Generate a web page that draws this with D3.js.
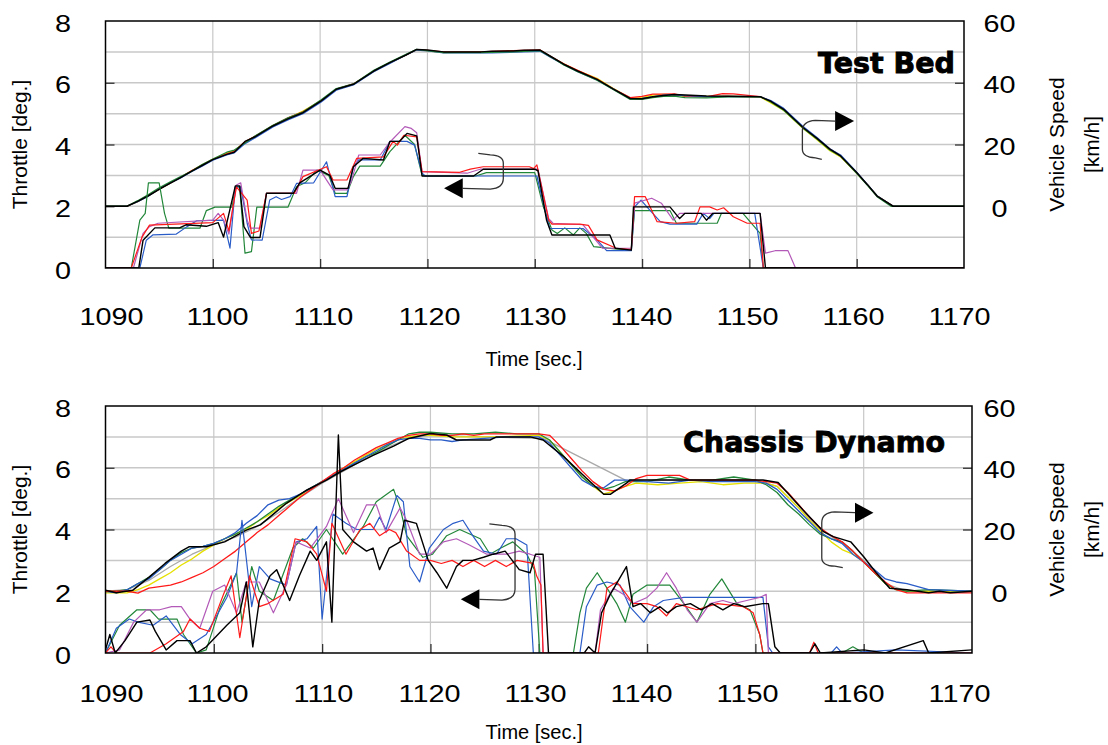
<!DOCTYPE html>
<html><head><meta charset="utf-8">
<script src="https://cdnjs.cloudflare.com/ajax/libs/d3/7.8.5/d3.min.js"></script>
<style>body{margin:0;background:#fff;} svg{display:block}</style>
</head><body>
<script>
// ---------- axis ticks ----------
const timeTicks = [1090,1100,1110,1120,1130,1140,1150,1160,1170];
const throttleTicks = [0,2,4,6,8];
const speedTicks = [0,20,40,60];
const panelTitles = ["Test Bed","Chassis Dynamo"];

// ---------- TOP (Test Bed) : vehicle speed [t, km/h] ----------
const topSpdBlack = [[1090,0],[1092,0],[1093,1.6],[1094,3.4],[1095,5.5],[1096,7.4],[1097,9.3],[1098,11.3],[1099,13.2],[1100,15.1],[1101.3,16.8],[1102,17.5],[1103,21],[1104,22.6],[1105.6,26],[1107,28.3],[1108.4,30.3],[1110.1,34.1],[1111.5,37.9],[1113.1,39.5],[1115,43.8],[1116.5,46.5],[1118,49],[1119,50.8],[1120,50.6],[1121.5,50],[1125,50],[1126,50.2],[1128,50.3],[1129,50.5],[1130.5,50.6],[1131.5,48.5],[1132.7,46],[1134,43.8],[1135.8,41.1],[1137.3,38],[1138.9,34.9],[1140,34.8],[1141,35.5],[1142,35.9],[1143,36.2],[1144,36],[1146,35.7],[1148,35.6],[1151,35.5],[1152,34],[1153.2,31.4],[1155,25.5],[1156.3,22],[1157.5,18.5],[1158.5,16.3],[1160,10.9],[1161,7],[1161.9,3.3],[1163.4,0],[1170,0]];
const topSpdGreen = [[1090,0],[1092,0],[1093,1.8],[1094,3.8],[1095,6],[1096,7.8],[1097,9.6],[1098,11.3],[1099,13.5],[1100,15.3],[1101.3,17.5],[1102,18.2],[1103,20.5],[1104,22.9],[1105.6,26.2],[1107,28.6],[1108.4,30.5],[1110.1,34.5],[1111.5,38.1],[1113.1,39.6],[1115,44],[1116.5,46.7],[1118,49.2],[1119,50.8],[1120,50.4],[1121.5,49.8],[1125,49.8],[1128,50],[1130.5,50.4],[1131.5,48.4],[1132.7,45.8],[1134,43.6],[1135.8,40.8],[1137.3,37.8],[1138.9,34.6],[1140,34.6],[1141,35.2],[1142,35.6],[1143,35.7],[1144,35.2],[1146,35.1],[1148,35.4],[1151,35.5],[1152,33.8],[1153.2,31.1],[1155,25.3],[1156.3,21.8],[1157.5,18.2],[1158.5,16.2],[1160,10.7],[1161,6.8],[1161.9,3.1],[1163.2,0],[1170,0]];
const topSpdBlue = [[1090,0],[1092,0],[1093,1.5],[1094,3.3],[1095,5.6],[1096,7.5],[1097,9.2],[1098,11.2],[1099,13],[1100,14.9],[1101.3,16.6],[1102,17.3],[1103,20.3],[1104,22.3],[1105.6,25.7],[1107,28],[1108.4,30],[1110.1,33.8],[1111.5,37.6],[1113.1,39.3],[1115,43.6],[1116.5,46.3],[1118,49],[1119,50.6],[1120,50.3],[1121.5,49.7],[1126,49.7],[1128,49.9],[1130.5,50.2],[1131.5,48.2],[1132.7,45.9],[1134,43.6],[1135.8,40.9],[1137.3,38],[1138.9,34.8],[1140,34.9],[1141,35.4],[1142,36],[1143,36.1],[1144,35.8],[1146,35.5],[1148,35.6],[1151,35.5],[1152,34.2],[1153.2,31.7],[1155,25.8],[1156.3,22.3],[1157.5,18.6],[1158.5,16.6],[1160,11],[1161,7.1],[1161.9,3.4],[1163.4,0],[1170,0]];
const topSpdRed = [[1090,0],[1092,0],[1093,1.6],[1094,3.5],[1095,5.6],[1096,7.5],[1097,9.4],[1098,11.5],[1099,13.3],[1100,15.2],[1101.3,17],[1102,17.8],[1103,20.9],[1104,22.8],[1105.6,26.1],[1107,28.6],[1108.4,30.6],[1110.1,34.2],[1111.5,37.9],[1113.1,39.6],[1115,43.8],[1116.5,46.5],[1118,49],[1119,50.7],[1120,50.5],[1121.5,50],[1125,50],[1128,50.4],[1130.5,50.6],[1131.5,48.5],[1132.7,46.1],[1134,44],[1135.8,41.2],[1137.3,38],[1138.9,35.2],[1140,35.6],[1141,36.3],[1142,36.3],[1143,36.4],[1144,35.7],[1146,35.4],[1147.5,36.5],[1148.5,36.4],[1151,35.5],[1152,34],[1153.2,31.4],[1155,25.5],[1156.3,22],[1157.5,18.5],[1158.5,16.3],[1160,10.9],[1161,7],[1161.9,3.3],[1163.4,0],[1170,0]];
const topSpdYellow = [[1090,0],[1092,0],[1093,1.5],[1094,3.4],[1095,5.5],[1096,7.4],[1097,9.3],[1098,11.4],[1099,13.4],[1100,15.2],[1101.3,17.2],[1102,18],[1103,20.8],[1104,22.7],[1105.6,26.1],[1107,28.5],[1108.4,30.8],[1110.1,34.2],[1111.5,37.8],[1113.1,39.5],[1115,43.7],[1116.5,46.4],[1118,49],[1119,50.7],[1120,50.3],[1121.5,49.8],[1125,49.9],[1128,50.2],[1130.5,50.5],[1131.5,48.3],[1132.7,46.1],[1134,43.9],[1135.8,41.4],[1137.3,38.2],[1138.9,35],[1140,35.2],[1141,36],[1142,36.2],[1143,36.1],[1144,35.6],[1146,35.6],[1148,35.7],[1151,35.4],[1152,33.5],[1153.2,31],[1155,25.2],[1156.3,21.5],[1157.5,18],[1158.5,16],[1160,10.7],[1161,7],[1161.9,3.4],[1163.4,0],[1170,0]];

// ---------- TOP (Test Bed) : throttle [t, deg] ----------
const topThrBlack = [[1090,0],[1093.1,0],[1093.5,0.9],[1094.6,1.3],[1096.9,1.3],[1097.5,1.4],[1099.4,1.35],[1100.5,1.47],[1101,1.0],[1102.1,2.66],[1102.5,2.66],[1102.9,1.34],[1103.5,0.99],[1104.4,0.99],[1105,2.42],[1107.5,2.42],[1108.1,2.76],[1110,3.17],[1110.9,3.0],[1111.4,2.58],[1112.6,2.58],[1113.1,3.28],[1114,3.55],[1115.9,3.5],[1116.5,4.1],[1117.4,4.1],[1118.1,4.36],[1119,4.28],[1119.5,2.98],[1124.3,2.98],[1125.2,3.2],[1130,3.2],[1130.3,3.15],[1131.1,1.55],[1131.6,1.07],[1137,1.07],[1137.5,0.64],[1139,0.58],[1139.2,1.98],[1142.6,1.98],[1143.5,1.6],[1144,1.77],[1145.5,1.77],[1146,1.55],[1146.6,1.77],[1151,1.77],[1151.5,0],[1170,0]];
const topThrRed = [[1090,0],[1092.4,0],[1093.4,1.0],[1094.1,1.39],[1100,1.47],[1101,1.77],[1101.5,1.2],[1102.2,2.63],[1103.2,2.2],[1103.6,1.12],[1104.3,1.2],[1105,2.42],[1107.6,2.42],[1108.4,2.96],[1110.6,3.28],[1111.2,2.85],[1112.5,2.85],[1113.4,3.55],[1115.9,3.6],[1116.8,4.1],[1117.2,3.98],[1117.8,4.3],[1119,4.25],[1119.5,3.12],[1123,3.1],[1124,3.2],[1125.2,3.28],[1129.5,3.28],[1129.9,3.22],[1130.2,3.34],[1131.3,1.55],[1131.6,1.42],[1134.2,1.42],[1135,1.38],[1135.8,0.91],[1137.6,0.64],[1139,0.6],[1139.3,2.31],[1140.3,2.31],[1141.4,1.5],[1143.2,1.45],[1144.9,1.5],[1145.4,1.98],[1146.3,1.98],[1147,1.88],[1147.6,1.95],[1148.5,1.66],[1149.8,1.45],[1151,1.45],[1151.3,0],[1170,0]];
const topThrBlue = [[1090,0],[1093.2,0],[1093.8,0.9],[1094.4,1.07],[1096.6,1.1],[1097.6,1.34],[1098.5,1.53],[1101,1.55],[1101.6,0.64],[1102.1,2.63],[1102.6,2.63],[1103.2,1.45],[1103.6,0.91],[1104.6,0.9],[1105.3,2.2],[1105.9,2.31],[1106.4,2.22],[1107.2,2.31],[1107.8,2.74],[1109.4,2.76],[1110.6,3.44],[1111.4,2.31],[1112.5,2.31],[1113.1,3.28],[1113.6,3.5],[1115.6,3.5],[1116.5,4.1],[1118.1,4.1],[1118.8,3.98],[1119.5,3.07],[1119.8,2.98],[1130.2,2.98],[1131.1,1.66],[1131.4,1.28],[1134.5,1.28],[1135.8,0.91],[1136.7,0.56],[1139,0.56],[1139.3,1.98],[1139.9,2.2],[1140.7,1.88],[1141.7,1.5],[1142.6,1.42],[1145.1,1.42],[1145.7,1.77],[1146.3,1.6],[1146.7,1.77],[1150.5,1.77],[1151.3,0],[1170,0]];
const topThrGreen = [[1090,0],[1092.4,0],[1093.2,1.55],[1093.7,1.77],[1094,2.76],[1095,2.76],[1095.5,1.77],[1095.9,1.29],[1098.8,1.29],[1099.4,1.86],[1100.2,1.97],[1101.8,1.97],[1102.1,2.63],[1102.5,2.63],[1103,0.48],[1103.6,0.53],[1104.1,1.97],[1107,1.97],[1107.8,2.63],[1108.6,2.76],[1109.7,3.17],[1110.8,3.0],[1111.4,2.42],[1112.5,2.42],[1113.1,2.96],[1113.7,3.3],[1115.6,3.3],[1116.5,3.77],[1117.9,4.3],[1118.8,4.0],[1119.5,3.0],[1119.8,2.98],[1124.5,2.98],[1125.5,3.09],[1130,3.09],[1130.8,1.98],[1131.6,1.23],[1132.1,1.12],[1132.8,1.3],[1133.6,1.07],[1134.2,1.3],[1134.8,1.12],[1135.5,0.69],[1137.5,0.62],[1139,0.58],[1139.3,1.86],[1142.6,1.86],[1143.2,1.45],[1147,1.45],[1147.4,1.77],[1149.4,1.77],[1151,1.12],[1151.3,0],[1170,0]];
const topThrPurple = [[1090,0],[1092.6,0],[1093.5,1.12],[1094.1,1.34],[1094.9,1.45],[1100,1.55],[1100.5,1.77],[1101,1.55],[1101.5,1.1],[1102.2,2.69],[1102.6,2.76],[1103.2,1.55],[1103.5,1.29],[1104.4,1.29],[1105,2.42],[1107.8,2.42],[1108.4,3.17],[1110,3.17],[1111.2,2.53],[1112.5,2.53],[1112.9,2.8],[1113.6,3.66],[1115.6,3.66],[1116.4,4.04],[1117.9,4.58],[1118.5,4.52],[1119,4.38],[1119.5,3.12],[1123.7,3.07],[1124.9,3.2],[1130.3,3.2],[1131.3,1.6],[1131.7,1.45],[1134.5,1.4],[1136.3,0.64],[1139,0.64],[1139.3,2.1],[1140.9,2.26],[1141.8,2.1],[1142.9,1.55],[1143.5,1.77],[1151,1.77],[1151.5,0.48],[1152.4,0.56],[1153.6,0.56],[1154.3,0],[1170,0]];

// ---------- BOTTOM (Chassis Dynamo) : vehicle speed ----------
const botSpdBlack = [[1090,0.3],[1091,-0.5],[1092.5,0.3],[1094,4.5],[1095.5,9],[1097,13],[1097.7,14.4],[1099.3,14.4],[1101,16],[1103,19.8],[1104.3,21.5],[1105.5,25],[1106.7,28.5],[1108.6,32.8],[1110.4,36],[1111.7,38.7],[1113,41],[1114.7,44],[1116.6,47],[1118,49.5],[1120,51.1],[1121.5,50.6],[1122.4,49],[1125.5,49],[1126.1,50],[1129.2,50],[1130.4,49],[1132.3,43.6],[1134.4,36.6],[1136,31.4],[1136.6,31.4],[1138.1,35],[1138.4,36],[1150.7,36],[1152.1,35.2],[1154.4,26.3],[1156.3,19.3],[1157.2,17.7],[1158.8,16],[1160,11.2],[1161.2,5.8],[1162.4,1],[1164,0.5],[1166,-0.5],[1167,0],[1168,-0.5],[1170,0]];
const botSpdRed = [[1090,0],[1092,0],[1093,-0.6],[1094,1],[1095,1.5],[1096,2],[1097,3],[1098,4.5],[1099,6],[1100,8],[1101,10.5],[1102,13],[1103,16],[1104,19],[1105,21.5],[1106,24.5],[1107,27.5],[1108,30.5],[1109,33],[1110,35.5],[1111,38],[1112,40],[1113,42.5],[1114,44.5],[1115,46.5],[1116,48],[1117,49.5],[1118,50.5],[1119,51],[1120,51],[1121,50.5],[1122,50.5],[1123,51],[1124,50.5],[1125,51],[1130,51],[1131,50.5],[1132,47],[1133,43],[1134,39],[1135,35.5],[1136,33],[1137,32.5],[1138,34],[1139,36.5],[1140,37.5],[1143,37.5],[1144,36],[1150,36],[1151,35.5],[1152,35],[1153,32],[1154,28],[1155,24],[1156,20.5],[1157,18],[1158,16],[1159,13],[1160,9.5],[1161,6],[1162,3],[1163,0.5],[1164,-0.5],[1170,-0.5]];
const botSpdYellow = [[1090,-0.5],[1092,-0.5],[1093,0.5],[1094,2],[1095,4],[1096,6],[1097,8.5],[1098,10.5],[1099,13],[1100,15],[1101,17],[1102,18.5],[1103,20],[1104,22.5],[1105,24.5],[1106,27],[1107,29],[1108,31],[1109,33.5],[1110,35.5],[1111,37.5],[1112,40],[1113,42],[1114,44],[1115,46],[1116,47.5],[1117,49],[1118,50],[1119,50.5],[1120,50.5],[1122,50],[1126,50],[1130,50.5],[1131,49],[1132,45],[1133,41],[1134,37],[1135,34],[1136,31.5],[1137,32.5],[1138,34],[1139,35],[1141,34.5],[1143,35],[1145,35.5],[1147,34.5],[1149,35],[1151,35],[1152,34],[1153,30.5],[1154,27],[1155,23],[1156,19.5],[1157,16],[1158,13.5],[1159,12],[1160,9.5],[1161,6],[1162,2.5],[1163,0.5],[1164,0],[1170,0]];
const botSpdGreen = [[1090,0],[1091,0],[1092,0.5],[1093,2.5],[1094,4.5],[1095,7],[1096,10],[1097,12.5],[1098,14],[1099,14.5],[1100,15.5],[1101,17],[1102,18.5],[1103,20.5],[1104,22.5],[1105,25],[1106,27.5],[1107,29.5],[1108,31.5],[1109,33.5],[1110,35.5],[1111,37.5],[1112,39.5],[1113,41.5],[1114,43.5],[1115,45],[1116,47],[1117,49],[1118,51],[1119,51.5],[1120,51.5],[1122,51],[1124,51],[1126,51.5],[1128,51],[1130,51],[1131,49],[1132,45],[1133,41],[1134,37],[1135,34],[1136,33],[1137,34],[1138,35.5],[1140,35.5],[1142,37],[1144,36],[1146,36],[1148,37],[1150,36],[1151,34.5],[1152,32],[1153,28],[1154,25],[1155,21.5],[1156,18.5],[1157,17],[1158,16],[1159,13],[1160,9.5],[1161,6],[1162,2.5],[1163,0.5],[1164,0],[1166,0.5],[1170,0]];
const botSpdBlue = [[1090,0],[1091,-0.5],[1092,0.5],[1093,2.5],[1094,4],[1095,7],[1096,10],[1097,12],[1098,14],[1099,14.5],[1100,15.5],[1101,17],[1102,19],[1103,22],[1104,24.5],[1105,28],[1106,29.5],[1107,30],[1108,31.5],[1109,33.5],[1110,35.5],[1111,37.5],[1112,39.5],[1113,41.5],[1114,43.5],[1115,45.5],[1116,47.5],[1117,49],[1118,49.5],[1119,49.5],[1120,49],[1121,49],[1122,48.5],[1123,49],[1125,49.5],[1127,50],[1130,50],[1131,48],[1132,44],[1133,40],[1134,36],[1135,34],[1136,33.5],[1137,36],[1138,36],[1140,35.5],[1142,35],[1144,36],[1146,35.5],[1148,35.5],[1150,35.5],[1151,35],[1152,33],[1153,29.5],[1154,26],[1155,22.5],[1156,19],[1157,17],[1158,15.5],[1159,12],[1160,9.5],[1161,7],[1162,4],[1163,3],[1164,2.5],[1165,1.5],[1166,0.5],[1170,0]];
const botSpdGray = [[1090,0],[1092,0.5],[1094,3.5],[1096,8],[1098,12],[1100,15],[1102,17.5],[1104,21],[1106,25.5],[1108,30.5],[1110,35],[1112,39],[1114,43],[1116,46.5],[1118,49.5],[1120,50.5],[1125,50],[1130.4,49.5],[1138,36],[1140,36],[1150,36],[1152,34],[1154,27],[1156,20],[1158,15.5],[1160,10],[1162,2.5],[1164,0],[1170,0]];

// ---------- BOTTOM (Chassis Dynamo) : throttle ----------
const botThrBlack = [[1090,0.1],[1090.4,0.6],[1090.9,0],[1091.8,0.4],[1092.9,1.0],[1094.1,1.07],[1094.6,0.7],[1095.6,0.1],[1096.6,0.4],[1097.8,0.4],[1098.4,0],[1099.3,0.2],[1101.2,0.9],[1102.4,1.3],[1103,2.3],[1103.6,0.2],[1104.2,1.7],[1105.2,2.5],[1105.8,2.7],[1107,1.7],[1107.9,2.5],[1108.9,3.3],[1109.5,3.0],[1110.4,3.6],[1110.9,1.0],[1111.5,7.06],[1111.9,4.0],[1112.9,3.6],[1114.1,3.3],[1114.7,3.4],[1115.3,2.7],[1116.2,3.4],[1117.2,3.6],[1117.6,4.3],[1118.7,4.2],[1119.8,3.0],[1120.6,2.6],[1121.5,2.1],[1122.4,2.8],[1123,3.0],[1123.9,3.0],[1124.9,3.1],[1125.8,3.2],[1126.9,3.3],[1128.2,2.7],[1129.2,2.6],[1129.7,3.2],[1130.4,3.2],[1130.9,0],[1134.2,0],[1134.6,0.2],[1135.2,0],[1135.8,1.3],[1136.6,1.9],[1138.1,2.8],[1138.7,1.5],[1139.4,1.6],[1140.3,1.3],[1141.2,1.5],[1141.9,1.3],[1142.7,1.5],[1144,1.6],[1145,1.4],[1146,1.6],[1147,1.4],[1148,1.6],[1149,1.5],[1150.7,1.6],[1151.2,1.6],[1151.8,0.2],[1152.3,0],[1155,0],[1155.5,0.3],[1156,0],[1160,0.1],[1162,0],[1165.5,0.4],[1166,0],[1170,0.1]];
const botThrBlue = [[1090,0],[1091,0.8],[1092.2,1.1],[1093,1.0],[1094.4,0.9],[1095.6,1.2],[1096.9,0.6],[1098,0.3],[1099.3,0.6],[1101.2,1.8],[1102.1,2.6],[1102.6,4.3],[1103.5,1.5],[1104.2,2.8],[1105.2,2.4],[1106.7,2.2],[1107.6,3.6],[1108.6,3.7],[1109.5,4.1],[1110,1.1],[1111,4.5],[1112.2,4.2],[1113.2,4.0],[1114.7,4.0],[1115.3,4.4],[1115.9,4.0],[1116.9,5.1],[1117.5,4.9],[1118.1,2.8],[1119,2.3],[1119.9,3.4],[1121.2,4.0],[1122.1,4.2],[1123,4.3],[1123.9,3.8],[1124.9,3.3],[1126.1,3.2],[1127,3.7],[1127.9,3.7],[1128.9,3.5],[1129.5,0],[1133.8,0],[1134.4,1.5],[1135.4,2.2],[1136.3,2.3],[1137.5,2.2],[1138.4,1.5],[1139.7,1.0],[1140.6,1.5],[1141.5,1.7],[1143.4,1.8],[1150.7,1.8],[1151.2,0.2],[1151.6,0],[1157,0],[1157.5,0.2],[1158,0],[1163,0.1],[1170,0]];
const botThrGreen = [[1090,0],[1091.3,0.9],[1092.9,1.4],[1094.1,1.4],[1094.9,1.1],[1096.6,1.1],[1097.2,0.6],[1098.4,0],[1099.3,0.1],[1100.6,1.5],[1102.1,2.6],[1102.6,1.0],[1103.5,2.8],[1104.2,2.0],[1105.5,1.7],[1107.3,3.4],[1108.2,3.7],[1109.2,3.4],[1110.4,4.0],[1111.9,3.2],[1113.8,4.1],[1115,4.9],[1116.6,5.3],[1117.2,4.7],[1117.8,3.8],[1119.3,3.1],[1120.2,3.2],[1121.5,3.8],[1122.7,4.0],[1124.6,3.7],[1125.5,3.2],[1126.5,3.4],[1127.6,3.6],[1128.9,3.2],[1129.6,2.7],[1130.1,0],[1133.2,0],[1133.8,1.3],[1134.4,2.1],[1135.4,2.6],[1136.3,2.1],[1137.2,1.6],[1138,1.0],[1138.7,1.9],[1140,2.2],[1142.1,2.2],[1143.4,1.6],[1144.6,1.0],[1145.8,1.9],[1146.9,2.4],[1148.3,1.6],[1149.5,1.4],[1150.4,0.6],[1150.7,0],[1158,0],[1159,0.2],[1160,0],[1170,0]];
const botThrPurple = [[1090,0],[1091.3,0.1],[1092.6,1.0],[1093.8,1.4],[1095,1.4],[1096.1,1.5],[1097,1.5],[1097.8,1.1],[1098.7,0.8],[1099.9,2.0],[1101,2.2],[1102.1,1.3],[1103,2.3],[1104.2,2.3],[1105.5,1.3],[1106.7,2.2],[1107.6,3.6],[1108.9,3.4],[1110.4,4.1],[1111.5,5.0],[1112.9,3.9],[1114.1,4.8],[1115,4.8],[1115.9,3.9],[1117.2,4.7],[1117.8,4.3],[1119,3.2],[1120,3.2],[1121.2,3.6],[1122.4,3.7],[1123.6,3.5],[1125.2,3.2],[1127,3.2],[1128.2,3.3],[1129.2,3.2],[1130.1,3.1],[1130.4,0],[1135.2,0],[1135.7,1.4],[1136.9,2.1],[1137.8,1.9],[1138.7,1.6],[1140,1.8],[1140.9,2.1],[1141.8,2.6],[1142.7,2.1],[1143.7,1.4],[1144.6,1.0],[1145.8,1.6],[1147,1.7],[1148,1.6],[1149.2,1.7],[1150.4,1.8],[1151,1.9],[1151.2,0],[1170,0]];
const botThrRed = [[1090,0],[1090.5,0.2],[1091,0],[1094.1,0],[1095.6,0.3],[1097.2,0.7],[1097.8,1.1],[1098.7,0.8],[1099.6,0.7],[1100.9,1.9],[1101.6,2.5],[1102.4,0.5],[1103.3,2.5],[1104.2,1.5],[1105,1.6],[1106.4,1.9],[1107.5,3.7],[1108.6,3.6],[1109.5,3.2],[1110.4,2.0],[1110.9,4.2],[1112.2,3.2],[1113.5,4.0],[1114.4,4.2],[1115.3,3.8],[1116.2,4.0],[1116.8,3.9],[1117.8,3.3],[1119,3.0],[1120,3.0],[1121,2.9],[1122,3.0],[1123,2.8],[1124,3.0],[1125,2.8],[1126,3.0],[1127,2.8],[1128,3.0],[1129.5,2.9],[1129.8,2.5],[1130.2,2.2],[1130.4,0],[1135.5,0],[1136.3,2.1],[1137.2,2.3],[1138.1,1.9],[1138.7,1.6],[1140,1.6],[1140.9,1.5],[1141.8,1.2],[1142.7,1.6],[1144.6,1.4],[1146.5,1.6],[1148.9,1.5],[1149.8,1.3],[1150.4,0.6],[1150.7,0],[1155,0],[1155.4,0.35],[1155.8,0],[1170,0]];

// ---------- annotations (data units) ----------
const topAnnot = [
  {axis:"thr", start:[1124.74,3.715], side:1127.07, end:1123.29, endY:2.58, tip:1121.55, dir:-1},
  {axis:"spd", start:[1156.75,15.2], side:1154.94, end:1157.99, endY:27.6, tip:1159.76, dir:1}
];
const botAnnot = [
  {axis:"thr", start:[1125.44,4.18], side:1127.81, end:1124.52, endY:1.74, tip:1122.8, dir:-1},
  {axis:"spd", start:[1158.07,7.63], side:1156.13, end:1159.2, endY:25.44, tip:1160.9, dir:1}
];

const COL = {red:"#ff1a1a", blue:"#2a5cc8", green:"#23873a", purple:"#b35ab8", black:"#000000", yellow:"#e6e000", gray:"#a9a9a9"};

const W = 1108, H = 745;
const FONT = "'Liberation Sans', Arial, sans-serif";
const svg = d3.select("body").append("svg").attr("width", W).attr("height", H)
  .style("font-family", FONT);

function drawPanel(p) {
  const g = svg.append("g");
  const x = d3.scaleLinear().domain([1090,1170]).range([p.left, p.right]);
  const xl = d3.scaleLinear().domain([1090,1170]).range([111, 959]);
  const yT = d3.scaleLinear().domain([0,8]).range([p.bottom, p.top]);
  const yS = d3.scaleLinear().domain([-20,60]).range([p.bottom, p.top]);

  const clipId = "clip" + p.id;
  svg.append("clipPath").attr("id", clipId).append("rect")
    .attr("x", p.left).attr("y", p.top).attr("width", p.right - p.left).attr("height", p.bottom - p.top);

  // grid
  g.append("g").selectAll("line").data(d3.range(1,8)).join("line")
    .attr("x1", p.left).attr("x2", p.right).attr("y1", d => yT(d)).attr("y2", d => yT(d))
    .attr("stroke", "#c8c8c8").attr("stroke-width", 1.5);
  g.append("g").selectAll("line").data(timeTicks.slice(1,-1)).join("line")
    .attr("x1", d => x(d)).attr("x2", d => x(d)).attr("y1", p.top).attr("y2", p.bottom)
    .attr("stroke", "#c8c8c8").attr("stroke-width", 1.2);

  // inner ticks
  g.append("g").attr("transform", `translate(0,${p.bottom})`)
    .call(d3.axisBottom(x).tickValues(timeTicks.slice(1,-1)).tickSizeInner(-9).tickSizeOuter(0).tickFormat(""))
    .call(a => a.select(".domain").remove())
    .call(a => a.selectAll("line").attr("stroke", "#333").attr("stroke-width", 1.3));
  g.append("g").attr("transform", `translate(${p.left},0)`)
    .call(d3.axisLeft(yT).tickValues([2,4,6]).tickSizeInner(-9).tickSizeOuter(0).tickFormat(""))
    .call(a => a.select(".domain").remove())
    .call(a => a.selectAll("line").attr("stroke", "#333").attr("stroke-width", 1.3));
  g.append("g").attr("transform", `translate(${p.right},0)`)
    .call(d3.axisRight(yS).tickValues([20,40]).tickSizeInner(-9).tickSizeOuter(0).tickFormat(""))
    .call(a => a.select(".domain").remove())
    .call(a => a.selectAll("line").attr("stroke", "#333").attr("stroke-width", 1.3));

  // series
  const lg = g.append("g").attr("clip-path", `url(#${clipId})`);
  const lineT = d3.line().x(d => x(d[0])).y(d => yT(d[1]));
  const lineS = d3.line().x(d => x(d[0])).y(d => yS(d[1]));
  p.speed.forEach(s => lg.append("path").attr("d", lineS(s.data)).attr("fill", "none")
    .attr("stroke", COL[s.c]).attr("stroke-width", s.c === "black" ? 1.5 : 1.3).attr("stroke-linejoin", "round"));
  p.thr.forEach(s => lg.append("path").attr("d", lineT(s.data)).attr("fill", "none")
    .attr("stroke", COL[s.c]).attr("stroke-width", s.c === "black" ? 1.4 : 1.2).attr("stroke-linejoin", "round"));

  // border
  g.append("rect").attr("x", p.left).attr("y", p.top).attr("width", p.right - p.left).attr("height", p.bottom - p.top)
    .attr("fill", "none").attr("stroke", "#000").attr("stroke-width", 1.5);

  // tick labels
  const SX = 1.2;
  g.append("g").attr("transform", `translate(0,${p.labelBase})`)
    .call(d3.axisBottom(xl).tickValues(timeTicks).tickSize(0).tickPadding(0).tickFormat(d3.format("d")))
    .call(a => a.select(".domain").remove())
    .call(a => a.selectAll("text").attr("y", 0).attr("dy", 0).attr("font-size", 24)
      .attr("fill", "#000").attr("font-family", FONT)
      .attr("transform", `scale(${SX},1)`).attr("text-anchor", "middle"));
  g.append("g").attr("transform", `translate(71,0)`)
    .call(d3.axisLeft(yT).tickValues(throttleTicks).tickSize(0).tickPadding(0).tickFormat(d3.format("d")))
    .call(a => a.select(".domain").remove())
    .call(a => a.selectAll("text").attr("x", 0).attr("dy", 0).attr("y", 10).attr("font-size", 24)
      .attr("fill", "#000").attr("font-family", FONT)
      .attr("transform", `scale(${SX},1)`).attr("text-anchor", "end"));
  g.append("g").attr("transform", `translate(999.5,0)`)
    .call(d3.axisRight(yS).tickValues(speedTicks).tickSize(0).tickPadding(0).tickFormat(d3.format("d")))
    .call(a => a.select(".domain").remove())
    .call(a => a.selectAll("text").attr("x", 0).attr("dy", 0).attr("y", 10).attr("font-size", 24)
      .attr("fill", "#000").attr("font-family", FONT)
      .attr("transform", `scale(${SX},1)`).attr("text-anchor", "middle"));

  // axis titles
  const midY = (p.top + p.bottom) / 2;
  g.append("text").attr("transform", `translate(27,${midY}) rotate(-90)`).attr("text-anchor", "middle")
    .attr("font-size", 21).text("Throttle [deg.]");
  g.append("text").attr("transform", `translate(1064,${midY}) rotate(-90)`).attr("text-anchor", "middle")
    .attr("font-size", 21).text("Vehicle Speed");
  g.append("text").attr("transform", `translate(1099,${midY}) rotate(-90)`).attr("text-anchor", "middle")
    .attr("font-size", 21).text("[km/h]");
  g.append("text").attr("x", 534).attr("y", p.timeBase).attr("text-anchor", "middle")
    .attr("font-size", 20).text("Time [sec.]");

  // panel title (heavy)
  g.append("text").attr("x", p.titleX).attr("y", p.titleY).attr("text-anchor", "end")
    .attr("font-family", "'DejaVu Sans', sans-serif").attr("font-weight", "bold").attr("font-size", 28.5)
    .attr("stroke", "#000").attr("stroke-width", 0.9).attr("stroke-linejoin", "miter")
    .text(p.title);

  // annotations
  p.annot.forEach(a => {
    const y = a.axis === "thr" ? yT : yS;
    const x0 = x(a.start[0]), y0 = y(a.start[1]);
    const xs = x(a.side), y1 = y(a.endY), xe = x(a.end), xt = x(a.tip);
    const r = 10 * (a.dir < 0 ? 1 : -1);
    const down = y1 > y0 ? 1 : -1;
    const path = d3.path();
    path.moveTo(x0, y0);
    path.lineTo(xs - r*1.3, y0 + 1.5*down);
    path.quadraticCurveTo(xs, y0 + 2*down, xs, y0 + 10*down);
    path.lineTo(xs, y1 - 10*down);
    path.quadraticCurveTo(xs, y1, xs - r*1.3, y1 + 0.75*down);
    path.lineTo(xe, y1);
    g.append("path").attr("d", path.toString()).attr("fill", "none").attr("stroke", "#333").attr("stroke-width", 1.3);
    g.append("path").attr("d", `M${xt},${y1} L${xe},${y1 - 10} L${xe},${y1 + 10} Z`).attr("fill", "#000");
  });
}

drawPanel({
  id: "top", left: 105.5, right: 964, top: 21, bottom: 268, labelBase: 325, timeBase: 366,
  title: panelTitles[0], titleX: 955, titleY: 73,
  speed: [
    {c:"yellow", data: topSpdYellow}, {c:"red", data: topSpdRed}, {c:"blue", data: topSpdBlue},
    {c:"green", data: topSpdGreen}, {c:"black", data: topSpdBlack}
  ],
  thr: [
    {c:"green", data: topThrGreen}, {c:"blue", data: topThrBlue}, {c:"purple", data: topThrPurple},
    {c:"red", data: topThrRed}, {c:"black", data: topThrBlack}
  ],
  annot: topAnnot
});
drawPanel({
  id: "bot", left: 105.5, right: 972, top: 406, bottom: 653, labelBase: 702, timeBase: 739,
  title: panelTitles[1], titleX: 945, titleY: 452,
  speed: [
    {c:"gray", data: botSpdGray}, {c:"yellow", data: botSpdYellow}, {c:"green", data: botSpdGreen},
    {c:"blue", data: botSpdBlue}, {c:"red", data: botSpdRed}, {c:"black", data: botSpdBlack}
  ],
  thr: [
    {c:"green", data: botThrGreen}, {c:"blue", data: botThrBlue}, {c:"purple", data: botThrPurple},
    {c:"red", data: botThrRed}, {c:"black", data: botThrBlack}
  ],
  annot: botAnnot
});
</script>
</body></html>
